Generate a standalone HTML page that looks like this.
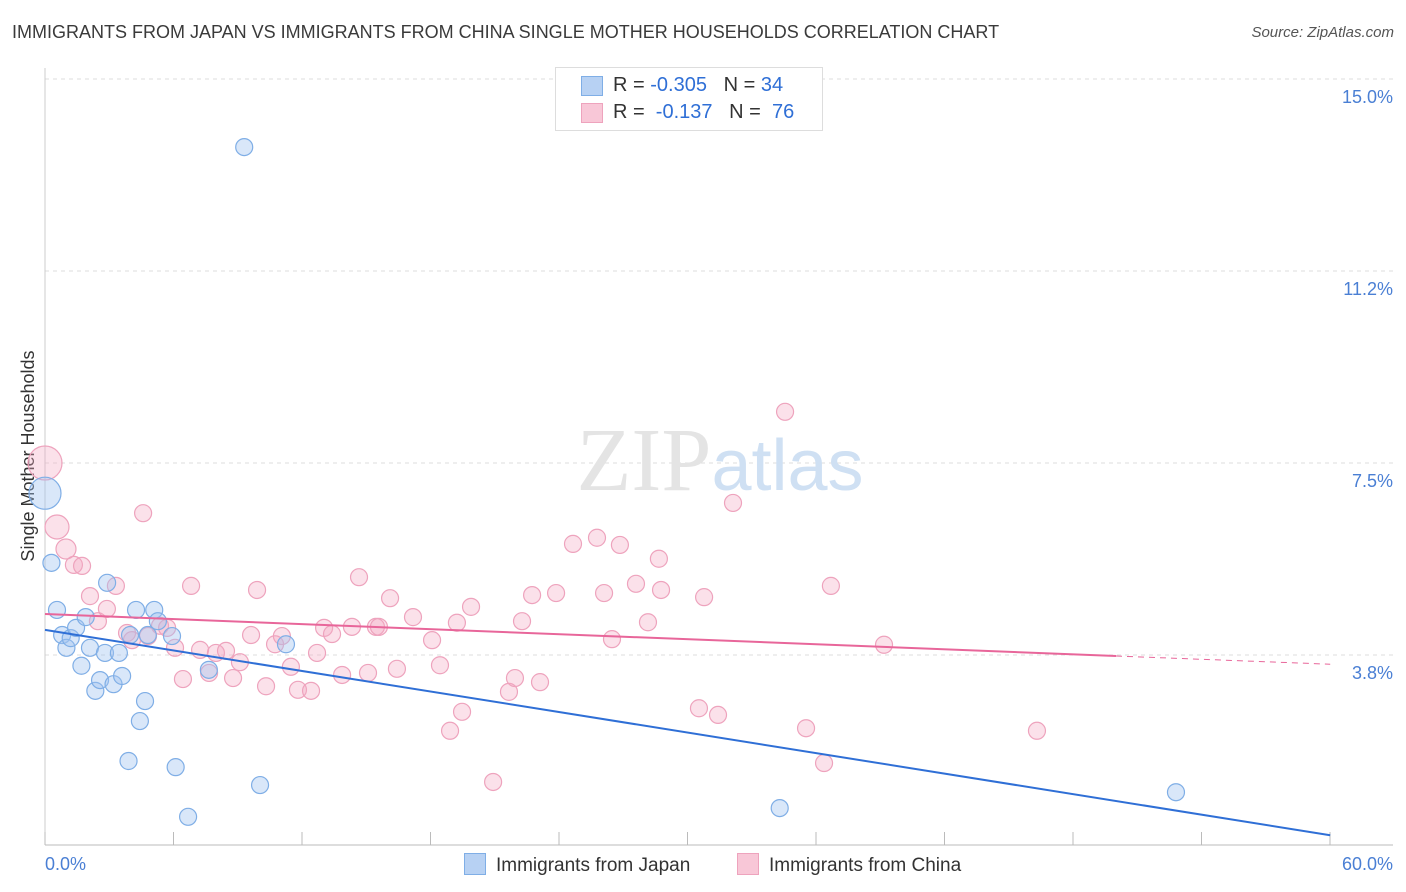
<!DOCTYPE html>
<html><head><meta charset="utf-8"><style>
body{margin:0;background:#fff;font-family:"Liberation Sans",sans-serif}
#wrap{position:relative;width:1406px;height:892px;overflow:hidden}
.t{position:absolute;white-space:nowrap}
</style></head><body>
<div id="wrap">
<div class="t" style="left:12px;top:22px;font-size:18px;color:#3a3a3a">IMMIGRANTS FROM JAPAN VS IMMIGRANTS FROM CHINA SINGLE MOTHER HOUSEHOLDS CORRELATION CHART</div>
<div class="t" style="right:12px;top:24px;font-size:15px;color:#555;font-style:italic">Source: ZipAtlas.com</div>
<svg id="svg" width="1406" height="892" style="position:absolute;left:0;top:0"></svg>
</div>
<script>
const yTicks=[3.75,7.5,11.25,15];
const yTickLabels=["3.8%","7.5%","11.2%","15.0%"];
const xTickLabels=["0.0%","60.0%"];
const japanX=[0,0.3,0.56,0.8,1.0,1.2,1.45,1.7,1.9,2.1,2.35,2.57,2.8,2.9,3.2,3.45,3.6,3.9,3.97,4.25,4.43,4.67,4.8,5.1,5.27,5.93,6.1,6.68,7.65,9.3,10.04,11.25,34.3,52.8];
const japanY=[6.91,5.55,4.63,4.14,3.89,4.08,4.28,3.54,4.49,3.89,3.05,3.26,3.79,5.16,3.18,3.79,3.34,1.68,4.14,4.63,2.46,2.85,4.14,4.63,4.41,4.12,1.56,0.59,3.46,13.67,1.21,3.96,0.76,1.07];
const chinaX=[0,0.56,0.98,1.35,1.73,2.10,2.47,2.89,3.31,3.83,4.06,4.58,4.81,5.37,5.70,6.07,6.44,6.82,7.24,7.66,7.98,8.45,8.78,9.10,9.62,9.90,10.32,10.74,11.06,11.48,11.81,12.42,12.70,13.03,13.40,13.87,14.33,14.66,15.08,15.45,15.59,16.11,16.43,17.18,18.07,18.44,18.91,19.23,19.47,19.89,20.92,21.66,21.94,22.27,22.74,23.11,23.86,24.65,25.77,26.10,26.47,26.84,27.59,28.15,28.66,28.76,30.53,30.77,31.42,32.12,34.55,35.53,36.37,36.69,39.17,46.31];
const chinaY=[7.50,6.25,5.82,5.51,5.49,4.90,4.41,4.65,5.10,4.18,4.04,6.52,4.12,4.32,4.28,3.89,3.28,5.10,3.85,3.40,3.79,3.83,3.30,3.61,4.14,5.02,3.14,3.96,4.12,3.52,3.07,3.05,3.79,4.28,4.16,3.36,4.30,5.27,3.40,4.30,4.30,4.86,3.48,4.49,4.04,3.55,2.27,4.38,2.64,4.69,1.27,3.03,3.30,4.41,4.92,3.22,4.96,5.92,6.04,4.96,4.06,5.90,5.14,4.39,5.63,5.02,2.71,4.88,2.58,6.72,8.50,2.32,1.64,5.10,3.95,2.27];
const japanTrend=[4.24,0.23];
const chinaTrend=[4.55,3.73,3.57];
const X=v=>45+v*21.42, Y=v=>847-v*51.2;
const svg=document.getElementById('svg');const NS='http://www.w3.org/2000/svg';
function mk(t,a,p){const e=document.createElementNS(NS,t);for(const k in a)e.setAttribute(k,a[k]);(p||svg).appendChild(e);return e;}
// gridlines
yTicks.forEach((v,i)=>{const g=mk('line',{x1:45,x2:1393,y1:Y(v),y2:Y(v),stroke:'#ddd','stroke-dasharray':'4,4'});


const t=mk('text',{x:1393,y:Y(v)+24,'text-anchor':'end','font-size':18,fill:'#4a7fd4','font-family':'Liberation Sans'});t.textContent=yTickLabels[i];

});
const ax=mk('line',{x1:45,x2:1393,y1:845,y2:845,stroke:'#bbb'});


const ay=mk('line',{x1:45,x2:45,y1:68,y2:845,stroke:'#ccc'});


for(let i=0;i<=10;i++){const tk=mk('line',{x1:45+i*128.5,x2:45+i*128.5,y1:845,y2:832,stroke:'#bbb'});

}
[[xTickLabels[0],45,'start'],[xTickLabels[1],1393,'end']].forEach(a=>{const t=mk('text',{x:a[1],y:870,'text-anchor':a[2],'font-size':18,fill:'#4a7fd4','font-family':'Liberation Sans'});t.textContent=a[0];

});
const yt=mk('text',{x:34,y:456,'text-anchor':'middle','font-size':18,fill:'#333',transform:'rotate(-90 34 456)','font-family':'Liberation Sans'});yt.textContent='Single Mother Households';


const wm=mk('text',{x:720,y:490,'text-anchor':'middle','font-size':90,fill:'#e4e4e4','font-family':'Liberation Serif'});wm.innerHTML='ZIP<tspan fill="#cfe0f3" font-family="Liberation Sans" font-size="72">atlas</tspan>';


chinaX.forEach((x,i)=>{const r=i==0?17:i==1?12:i==2?10:8.5;const c=mk('circle',{cx:X(x),cy:Y(chinaY[i]),r:r,fill:'rgba(244,170,195,0.35)',stroke:'#eea3bd','stroke-width':1.2});

});
japanX.forEach((x,i)=>{const r=i==0?16:8.5;const c=mk('circle',{cx:X(x),cy:Y(japanY[i]),r:r,fill:'rgba(160,195,240,0.4)',stroke:'#7faee6','stroke-width':1.2});

});
const jl=mk('line',{x1:X(0),y1:Y(japanTrend[0]),x2:X(60),y2:Y(japanTrend[1]),stroke:'#2f6fd6','stroke-width':2});


const cl=mk('line',{x1:X(0),y1:Y(chinaTrend[0]),x2:X(50),y2:Y(chinaTrend[1]),stroke:'#e8669a','stroke-width':2});


const cd=mk('line',{x1:X(50),y1:Y(chinaTrend[1]),x2:X(60),y2:Y(chinaTrend[2]),stroke:'#e8669a','stroke-width':1,'stroke-dasharray':'6,5'});


</script>
<div class="t" style="left:555px;top:67px;width:266px;height:62px;border:1px solid #ddd;background:#fff;font-size:20px;color:#333">
<div style="position:absolute;left:25px;top:8px;width:20px;height:18px;background:#b7d1f3;border:1px solid #7faee6"></div>
<div style="position:absolute;left:57px;top:6px">R = <span style="color:#2f6fd6">-0.305</span>&nbsp;&nbsp;&nbsp;N = <span style="color:#2f6fd6">34</span></div>
<div style="position:absolute;left:25px;top:35px;width:20px;height:18px;background:#f8c7d7;border:1px solid #eea3bd"></div>
<div style="position:absolute;left:57px;top:33px">R = &nbsp;<span style="color:#2f6fd6">-0.137</span>&nbsp;&nbsp;&nbsp;N = &nbsp;<span style="color:#2f6fd6">76</span></div>
</div>
<div class="t" style="left:464px;top:853px;font-size:19px;color:#333"><span style="display:inline-block;width:20px;height:20px;background:#b7d1f3;border:1px solid #7faee6;vertical-align:-4px;margin-right:10px"></span>Immigrants from Japan</div>
<div class="t" style="left:737px;top:853px;font-size:19px;color:#333"><span style="display:inline-block;width:20px;height:20px;background:#f8c7d7;border:1px solid #eea3bd;vertical-align:-4px;margin-right:10px"></span>Immigrants from China</div>
</body></html>
